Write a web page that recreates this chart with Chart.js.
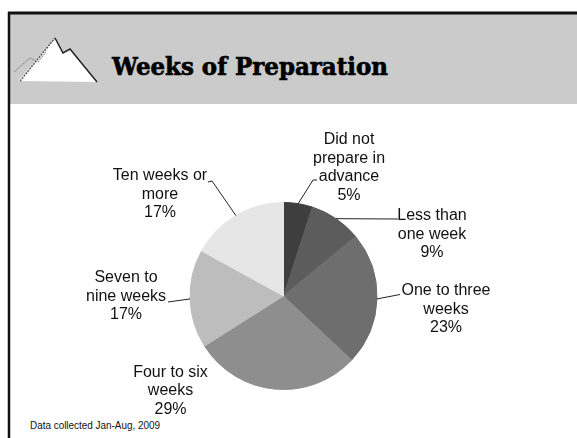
<!DOCTYPE html>
<html><head><meta charset="utf-8">
<script src="https://cdn.jsdelivr.net/npm/chart.js@4"></script>
<style>
html,body{margin:0;padding:0;background:#fff;}
#wrap{position:relative;width:577px;height:438px;overflow:hidden;background:#fff;}
#bg{position:absolute;left:0;top:0;}
#c{position:absolute;left:0;top:0;}
</style></head><body>
<div id="wrap">
<svg id="bg" width="577" height="438" xmlns="http://www.w3.org/2000/svg">
  <rect x="10" y="14" width="567" height="90" fill="#cbcbcb"/>
  <line x1="8" y1="13" x2="577" y2="13" stroke="#111" stroke-width="3"/>
  <line x1="9" y1="12" x2="9" y2="438" stroke="#111" stroke-width="2.5"/>
  <polygon points="18,81 55,38 63,53 70,49 97,82" fill="#fff"/>
  <polyline points="55,38 63,53 70,49 97,82" fill="none" stroke="#222" stroke-width="1.5"/>
  <polyline points="20,81 55,38" fill="none" stroke="#555" stroke-width="1.5" stroke-dasharray="2,1"/>
  <polyline points="14,72 30,58 38,62 46,52" fill="none" stroke="#777" stroke-width="1" stroke-dasharray="2,1"/>
  <text x="112" y="75" font-family="DejaVu Serif" font-weight="bold" font-size="25" fill="#000" stroke="#000" stroke-width="0.7" textLength="276" lengthAdjust="spacingAndGlyphs">Weeks of Preparation</text>
  <text x="30" y="429" font-family="Liberation Sans, Arial, sans-serif" font-size="10" fill="#111" textLength="130" lengthAdjust="spacingAndGlyphs">Data collected Jan-Aug, 2009</text>
</svg>
<canvas id="c" width="577" height="438"></canvas>
</div>
<script>
// ---- data ----
const categories = [
  ["Did not", "prepare in", "advance"],
  ["Less than", "one week"],
  ["One to three", "weeks"],
  ["Four to six", "weeks"],
  ["Seven to", "nine weeks"],
  ["Ten weeks or", "more"]
];
const percentages = [5, 9, 23, 29, 17, 17];

// ---- styles / layout ----
const sliceColors = ['#3e3e3e', '#5c5c5c', '#6e6e6e', '#8e8e8e', '#bdbdbd', '#e6e6e6'];
const lineH = 18.5;
// label positions relative to the pie centre (px), leader end points relative to centre
const labelLayout = [
  {dx: 65.5,   dy: -156, leader: [[29.5, -116], [33.5, -116]]},
  {dx: 148.5,  dy: -80,  leader: [[114.5, -77]]},
  {dx: 162.5,  dy: -5,   leader: [[116.5, -1.5]]},
  {dx: -113,   dy: 76.5, leader: null},
  {dx: -157.5, dy: -18,  leader: [[-115.5, 6]]},
  {dx: -123.5, dy: -120, leader: [[-71.5, -115], [-75.5, -114]]}
];

const labelPlugin = {
  id: 'sliceLabels',
  afterDatasetsDraw(chart) {
    const ctx = chart.ctx;
    const meta = chart.getDatasetMeta(0);
    ctx.save();
    ctx.font = '16px "Liberation Sans", Arial, sans-serif';
    ctx.fillStyle = '#111';
    ctx.textAlign = 'center';
    ctx.textBaseline = 'middle';
    ctx.strokeStyle = '#222';
    ctx.lineWidth = 1;
    meta.data.forEach((arc, i) => {
      const p = arc.getProps(['x', 'y', 'startAngle', 'endAngle', 'outerRadius'], true);
      const mid = (p.startAngle + p.endAngle) / 2;
      const lay = labelLayout[i];
      const lines = categories[i].concat([percentages[i] + '%']);
      lines.forEach((t, j) => ctx.fillText(t, p.x + lay.dx, p.y + lay.dy + j * lineH));
      if (lay.leader) {
        ctx.beginPath();
        ctx.moveTo(p.x + Math.cos(mid) * p.outerRadius, p.y + Math.sin(mid) * p.outerRadius);
        lay.leader.forEach(q => ctx.lineTo(p.x + q[0], p.y + q[1]));
        ctx.stroke();
      }
    });
    ctx.restore();
  }
};

new Chart(document.getElementById('c'), {
  type: 'pie',
  data: {
    labels: categories,
    datasets: [{
      data: percentages,
      backgroundColor: sliceColors,
      borderColor: sliceColors,
      borderWidth: 1
    }]
  },
  options: {
    responsive: false,
    animation: false,
    layout: {padding: {left: 189.5, right: 199.5, top: 202, bottom: 48}},
    plugins: {legend: {display: false}, tooltip: {enabled: false}, title: {display: false}}
  },
  plugins: [labelPlugin]
});
</script>
</body></html>
